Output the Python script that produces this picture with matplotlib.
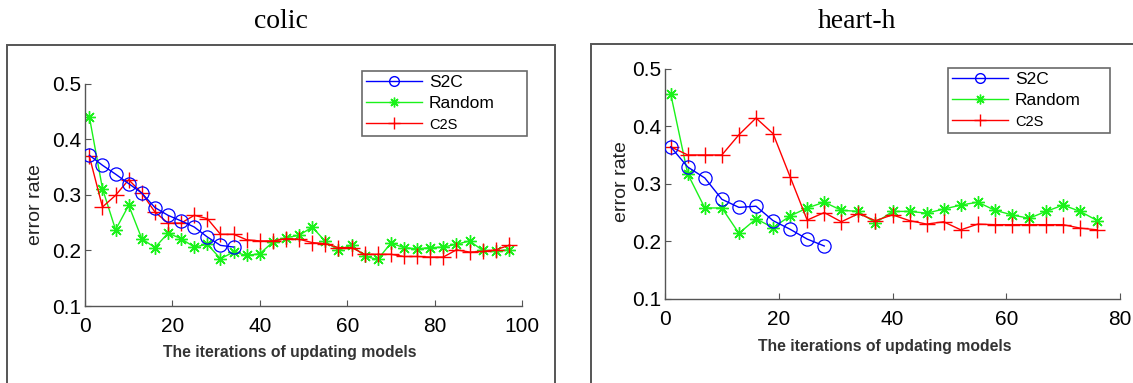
import matplotlib
matplotlib.use("Agg")
import matplotlib.pyplot as plt
from matplotlib.patches import Rectangle
from matplotlib.lines import Line2D

# ---- data: error rate vs. model-update iterations ----
colic_s2c_x = [1, 4, 7, 10, 13, 16, 19, 22, 25, 28, 31, 34]
colic_s2c = [0.371, 0.353, 0.337, 0.320, 0.303, 0.277, 0.263, 0.253, 0.242, 0.224, 0.209, 0.206]

colic_x = list(range(1, 98, 3))
colic_random = [0.440, 0.311, 0.237, 0.281, 0.221, 0.205, 0.231, 0.221, 0.206, 0.211,
                0.185, 0.197, 0.191, 0.194, 0.215, 0.223, 0.227, 0.242, 0.216, 0.200,
                0.210, 0.189, 0.184, 0.213, 0.205, 0.203, 0.205, 0.206, 0.211, 0.217,
                0.200, 0.199, 0.201]
colic_c2s = [0.369, 0.278, 0.299, 0.327, 0.303, 0.269, 0.249, 0.249, 0.263, 0.257,
             0.229, 0.229, 0.219, 0.217, 0.217, 0.221, 0.220, 0.214, 0.212, 0.205,
             0.205, 0.193, 0.193, 0.193, 0.189, 0.189, 0.188, 0.188, 0.201, 0.197,
             0.198, 0.201, 0.209]

heart_s2c_x = [1, 4, 7, 10, 13, 16, 19, 22, 25, 28]
heart_s2c = [0.364, 0.329, 0.310, 0.273, 0.259, 0.261, 0.236, 0.221, 0.204, 0.192]

heart_x = list(range(1, 77, 3))
heart_random = [0.456, 0.317, 0.258, 0.258, 0.214, 0.239, 0.224, 0.244, 0.258, 0.268,
                0.254, 0.252, 0.232, 0.252, 0.252, 0.249, 0.256, 0.263, 0.268, 0.254,
                0.246, 0.240, 0.252, 0.263, 0.252, 0.236]
heart_c2s = [0.364, 0.350, 0.350, 0.350, 0.385, 0.414, 0.387, 0.312, 0.237, 0.250,
             0.234, 0.248, 0.236, 0.246, 0.236, 0.230, 0.234, 0.220, 0.230, 0.229,
             0.229, 0.229, 0.229, 0.229, 0.223, 0.220]

titles = ["colic", "heart-h"]
series_names = ["S2C", "Random", "C2S"]
y_ticks = [0.1, 0.2, 0.3, 0.4, 0.5]
colic_xticks = [0, 20, 40, 60, 80, 100]
heart_xticks = [0, 20, 40, 60, 80]

SANS = ["Liberation Sans", "DejaVu Sans"]
SERIF = ["Liberation Serif", "DejaVu Serif"]

W, H = 1133, 383
fig = plt.figure(figsize=(W / 100, H / 100), dpi=100)


def fx(px):
    return px / W


def fy(py):
    return 1 - py / H


BLUE = (0.0, 0.0, 1.0)
GREEN = (0.1, 0.95, 0.1)
RED = (1.0, 0.0, 0.0)
ASTERISK = (8, 2, 0)


def panel(rect, xlim, xticks, s2c_x, s2c, x, rnd, c2s, legend_box, xlabel_xy, ylabel_xy):
    ax = fig.add_axes(rect)
    ax.plot(s2c_x, s2c, color=BLUE, lw=1.0, marker="o", ms=9.5, mfc="none",
            mec=BLUE, mew=0.9, label=series_names[0], zorder=3)
    ax.plot(x, rnd, color=GREEN, lw=1.0, marker=ASTERISK, ms=9, mec=GREEN,
            mew=1.0, label=series_names[1], zorder=2)
    ax.plot(x, c2s, color=RED, lw=1.0, marker="+", ms=11, mec=RED,
            mew=1.0, label=series_names[2], zorder=2)
    ax.set_xlim(*xlim)
    ax.set_ylim(0.1, 0.5)
    ax.set_xticks(xticks)
    ax.set_yticks(y_ticks)
    ax.set_xticklabels([str(t) for t in xticks], family=SANS, fontsize=15)
    ax.set_yticklabels([f"{t:.1f}" for t in y_ticks], family=SANS, fontsize=15)
    for s in ("top", "right"):
        ax.spines[s].set_visible(False)
    for s in ("left", "bottom"):
        ax.spines[s].set_color("#555555")
        ax.spines[s].set_linewidth(1.0)
        ax.spines[s].set_clip_on(False)
    ax.tick_params(direction="in", length=4, width=0.8, color="#555555", pad=3)
    ax.tick_params(axis="y", pad=3)
    ax.tick_params(axis="x", pad=8)

    # legend box
    lx0, ly0, lx1, ly1 = legend_box
    handles = [
        Line2D([], [], color=BLUE, lw=1.0, marker="o", ms=7, mfc="none", mec=BLUE),
        Line2D([], [], color=GREEN, lw=1.0, marker=ASTERISK, ms=7, mec=GREEN),
        Line2D([], [], color=RED, lw=1.0, marker="+", ms=9, mec=RED),
    ]
    leg = fig.legend(handles, series_names, loc="upper left",
                     bbox_to_anchor=(fx(lx0), fy(ly1), fx(lx1) - fx(lx0), fy(ly0) - fy(ly1)),
                     mode="expand", frameon=True, fancybox=False, handlelength=3.2,
                     handletextpad=0.4, borderpad=0.25, labelspacing=0.32,
                     prop={"family": SANS, "size": 12.5}, borderaxespad=0)
    leg.get_frame().set_edgecolor("#444444")
    leg.get_frame().set_linewidth(1.2)
    leg.get_texts()[2].set_fontsize(10.5)

    fig.text(fx(xlabel_xy[0]), fy(xlabel_xy[1]), "The iterations of updating models",
             family=SANS, fontsize=11.3, fontweight="bold", color="#333333",
             ha="center", va="center")
    fig.text(fx(ylabel_xy[0]), fy(ylabel_xy[1]), "error rate", family=SANS,
             fontsize=14, rotation=90, ha="center", va="center", color="#222222")
    return ax


panel([fx(85), fy(306), fx(522) - fx(85), fy(83.5) - fy(306)], (0, 100), colic_xticks,
      colic_s2c_x, colic_s2c, colic_x, colic_random, colic_c2s,
      (362, 71, 527, 142), (290, 353), (36, 205))

panel([fx(665), fy(299), fx(1120) - fx(665), fy(68.5) - fy(299)], (0, 80), heart_xticks,
      heart_s2c_x, heart_s2c, heart_x, heart_random, heart_c2s,
      (948, 68, 1110, 137), (885, 346), (622, 182))

# panel frames
fig.patches.append(Rectangle((fx(7), fy(420)), fx(555) - fx(7), fy(45) - fy(420),
                             transform=fig.transFigure, fill=False, ec="#555555", lw=1.4))
fig.patches.append(Rectangle((fx(591), fy(420)), fx(1160) - fx(591), fy(44) - fy(420),
                             transform=fig.transFigure, fill=False, ec="#555555", lw=1.4))

fig.text(fx(281), fy(21), titles[0], family=SERIF, fontsize=20, ha="center", va="center")
fig.text(fx(857), fy(21), titles[1], family=SERIF, fontsize=20, ha="center", va="center")

fig.savefig("out.png", dpi=100)
